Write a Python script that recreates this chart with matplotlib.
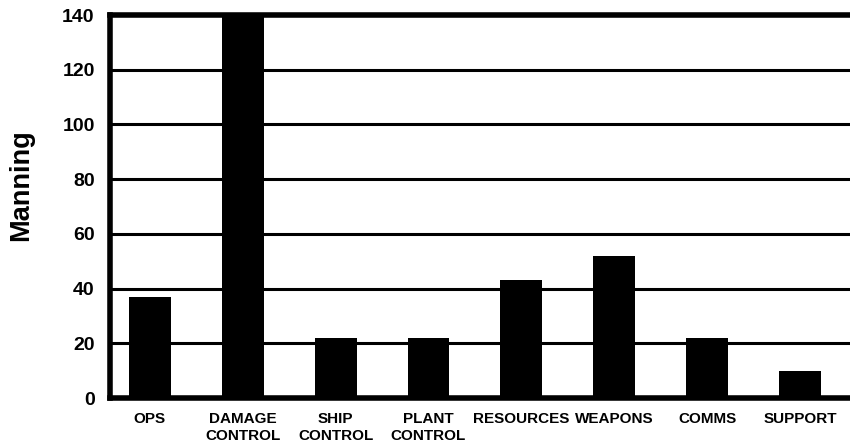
import matplotlib
matplotlib.use("Agg")
import matplotlib.pyplot as plt
import numpy as np

categories = ["OPS", "DAMAGE\nCONTROL", "SHIP\nCONTROL", "PLANT\nCONTROL",
              "RESOURCES", "WEAPONS", "COMMS", "SUPPORT"]
manning = [37, 140, 22, 22, 43, 52, 22, 10]
yticks = [0, 20, 40, 60, 80, 100, 120, 140]

plt.rcParams['font.family'] = ['Liberation Sans', 'DejaVu Sans']
plt.rcParams['font.weight'] = 'bold'

fig = plt.figure(figsize=(8.5, 4.44), dpi=100)
ax = fig.add_axes([110/850, 46/444, 1 - 110/850, 383/444])

x = np.arange(len(categories))
ax.bar(x, manning, width=0.45, color='black', zorder=3)

ax.set_xlim(-0.43, 7.54)
ax.set_ylim(0, 140)
ax.set_yticks(yticks)
ax.set_yticklabels([str(v) for v in yticks], fontsize=14, fontweight='bold')
ax.set_xticks(x)
ax.set_xticklabels(categories, fontsize=11, fontweight='bold', linespacing=1.25)
ax.tick_params(axis='both', length=0)
ax.tick_params(axis='y', pad=11)
ax.tick_params(axis='x', pad=10)

for v in yticks[1:-1]:
    ax.axhline(v, color='black', linewidth=2.2, zorder=2)

for side in ['left', 'top', 'bottom']:
    ax.spines[side].set_linewidth(4)
    ax.spines[side].set_color('black')
ax.spines['right'].set_visible(False)

fig.text(21/850, 1 - 185/444, "Manning", rotation=90, ha='center', va='center',
         fontsize=19.5, fontweight='bold')

fig.savefig("out.png", dpi=100)
